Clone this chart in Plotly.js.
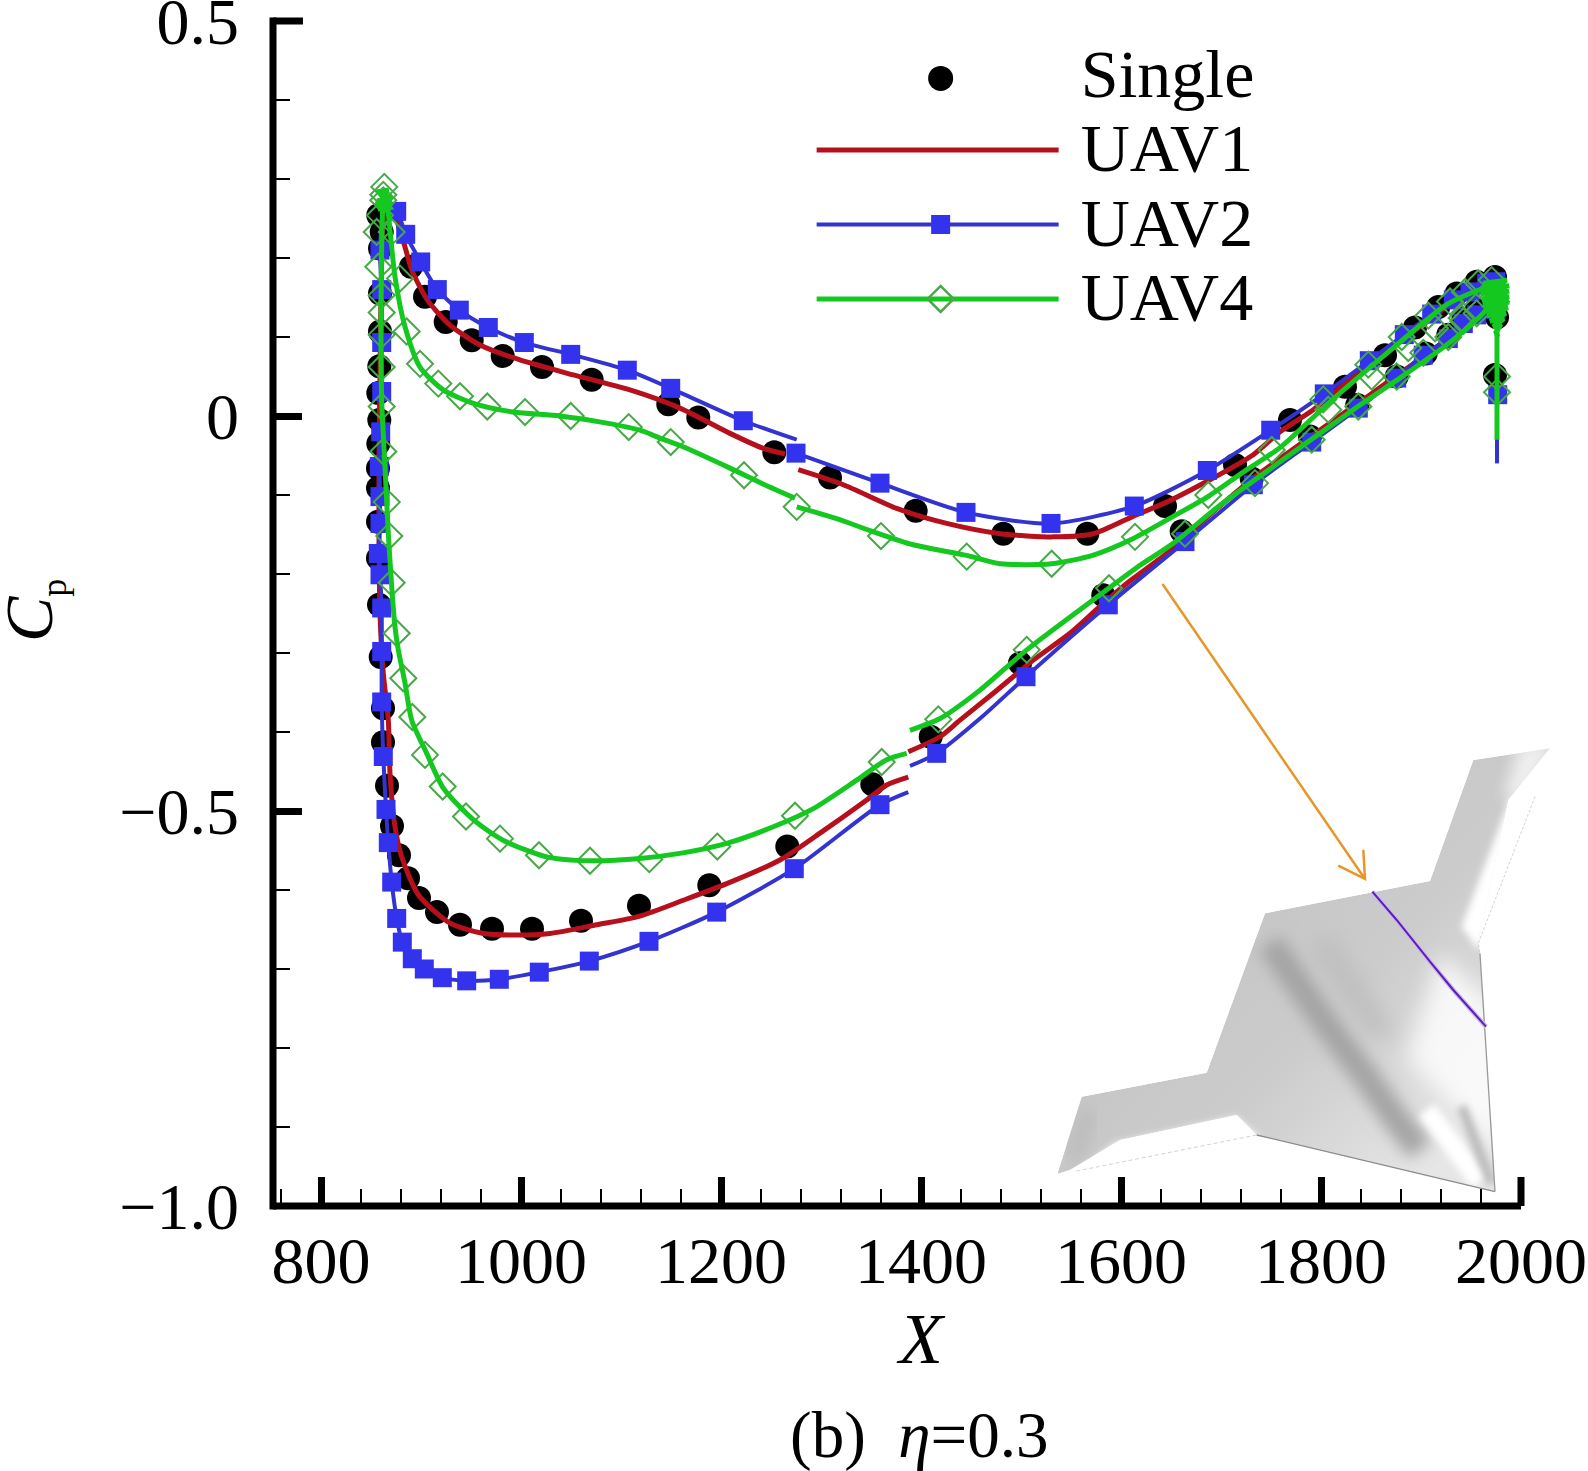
<!DOCTYPE html>
<html>
<head>
<meta charset="utf-8">
<script src="https://cdn.plot.ly/plotly-3.0.1.min.js"></script>
<style>
    html, body { margin: 0; padding: 0; background: #fff; }
</style>
</head>
<body>
<div id="plot" style="width:1588px;height:1471px;"></div>
<script>
// all values, [X, Cp]
const singlePoints = [
    [857.3,0.254],[860.7,0.233],[859,0.212],[859,0.155],[859,0.107],[858.3,0.063],[857.3,0.029],[858.3,-0.005],
    [857.3,-0.035],[857,-0.066],[857,-0.091],[857,-0.134],[857,-0.18],[858,-0.239],[859.7,-0.305],[862,-0.37],
    [862,-0.413],[866,-0.468],[871,-0.519],[878,-0.556],[887,-0.585],[898,-0.61],[916,-0.628],[939,-0.644],
    [971,-0.649],[1011,-0.649],[1060,-0.639],[1118,-0.62],[1188.3,-0.594],[1266.3,-0.545],[1351.3,-0.466],
    [1409.7,-0.406],[1499,-0.313],[1582.3,-0.227],[1660.7,-0.146],[1730.7,-0.079],[1789,-0.026],[1836.3,0.014],
    [1875.7,0.05],[1904.7,0.079],[1927.3,0.103],[1942.3,0.122],[1955.7,0.134],
    [890,0.189],[904,0.151],[924.7,0.119],[950.7,0.096],[981.7,0.076],[1021,0.062],[1070.7,0.046],[1147.3,0.015],
    [1177.3,-0.002],[1253.3,-0.046],[1309,-0.078],[1394.7,-0.12],[1482.3,-0.149],[1566.3,-0.149],[1644,-0.114],
    [1714,-0.062],[1769,-0.005],[1824,0.037],[1864,0.077],[1894,0.112],[1917.3,0.138],[1935.7,0.155],[1955.7,0.17],
    [1974,0.176],[1976,0.125],[1974,0.052]
];

const uav1Inboard = [
    [1387.3,-0.457],[1365.7,-0.467],[1345.7,-0.486],[1299,-0.528],[1259,-0.562],[1205.7,-0.592],[1162.3,-0.613],
    [1119,-0.633],[1075.7,-0.644],[1029,-0.655],[992.3,-0.657],[962.3,-0.655],[929,-0.642],[897.3,-0.606],
    [880.7,-0.558],[874,-0.52],[869,-0.452],[867.3,-0.385],[862.3,-0.326],[859,-0.25],[858,-0.15],[858,-0.05],
    [859,0.05],[860,0.15],[862,0.24],[866,0.272],[875,0.25],[884,0.214],[890.7,0.185],[906.3,0.147],[929,0.115],
    [959,0.09],[999,0.071],[1052.3,0.052],[1109,0.033],[1159,0.01],[1209,-0.022],[1242.3,-0.041],[1264,-0.048]
];
const uav1Outboard = [
    [1277.3,-0.068],[1322.3,-0.087],[1375.7,-0.117],[1425.7,-0.136],[1479,-0.149],[1532.3,-0.153],[1572.3,-0.149],
    [1612,-0.127],[1645.7,-0.109],[1685.7,-0.083],[1732.3,-0.049],[1759,-0.02],[1792.3,0.008],[1829,0.046],
    [1869,0.086],[1899,0.113],[1959,0.168],[1975,0.172]
];
const uav1Return = [
    [1975,0.15],[1955,0.125],[1899,0.072],[1829,0.009],[1759,-0.054],[1732,-0.079],[1692.3,-0.121],[1645.7,-0.174],
    [1605.7,-0.212],[1579,-0.241],[1549,-0.275],[1512.3,-0.309],[1472.3,-0.351],[1439,-0.385],[1419,-0.406],[1387.3,-0.425]
];

const uav2Inboard = [
    [1387.3,-0.476],[1359,-0.492],[1273.3,-0.573],[1195.7,-0.628],[1128,-0.665],[1068.3,-0.69],[1018.3,-0.704],
    [978.3,-0.713],[945.7,-0.715],[921.3,-0.711],[903.3,-0.7],[891.3,-0.687],[881.3,-0.666],[875.7,-0.636],
    [870.7,-0.59],[867.3,-0.54],[865,-0.498],[862.3,-0.431],[860.7,-0.362],[860.7,-0.298],[860.7,-0.243],
    [859,-0.201],[857.3,-0.174],[859,-0.136],[859,-0.102],[858.3,-0.064],[859.7,-0.02],[860.7,0.031],[860.7,0.093],
    [860.7,0.16],[859,0.21],[864,0.265],[875.7,0.259],[884.7,0.23],[899.7,0.195],[916.3,0.16],[938.3,0.134],
    [967.3,0.112],[1003.3,0.093],[1049.7,0.078],[1106.3,0.058],[1149.7,0.035],[1222.3,-0.006],[1275.7,-0.03]
];
const uav2Outboard = [
    [1275,-0.047],[1359,-0.085],[1445,-0.122],[1530,-0.136],[1613.3,-0.114],[1686.3,-0.069],[1749.7,-0.018],
    [1803.3,0.028],[1848.3,0.07],[1883.3,0.103],[1910.7,0.129],[1932.3,0.147],[1949,0.157],[1965.7,0.168],[1975,0.17]
];
const uav2Return = [
    [1975,0.15],[1955.7,0.128],[1942.3,0.117],[1927.3,0.098],[1902.3,0.077],[1875.7,0.048],[1837.3,0.01],[1790.7,-0.033],
    [1732.3,-0.087],[1664,-0.159],[1587.3,-0.239],[1505,-0.33],[1459,-0.383],[1415.7,-0.427],[1389,-0.443]
];
const uav2Spike = [[1976,0.17],[1976,-0.06]];
const uav2Bare = [1387.3,1275.7,1389,1459,864];   // line ends, no symbol drawn there
const uav2Trailing = [[1976.7,0.027],[1975,0.135]];

const uav4Inboard = [
    [1385.7,-0.427],[1365.7,-0.435],[1335.7,-0.461],[1292.3,-0.497],[1252.3,-0.52],[1205.7,-0.541],[1162,-0.553],
    [1119,-0.56],[1069,-0.563],[1025.7,-0.558],[982,-0.537],[952.3,-0.511],[922.3,-0.471],[905.7,-0.427],[890.7,-0.385],
    [884,-0.338],[877.3,-0.296],[874,-0.267],[870.7,-0.216],[867.3,-0.149],[864,-0.064],[860.7,0.02],[860,0.1],
    [860.5,0.2],[862,0.27],[864,0.285],[867,0.26],[874,0.176],[884,0.113],[899,0.062],[922.3,0.033],[952.3,0.016],
    [992.3,0.005],[1039,0],[1085.7,-0.009],[1119,-0.018],[1139,-0.028],[1162,-0.039],[1209,-0.066],[1242,-0.086],[1274,-0.104]
];
const uav4Outboard = [
    [1275.7,-0.115],[1315.7,-0.13],[1349,-0.145],[1392.3,-0.163],[1445.7,-0.1765],[1479,-0.187],[1530.7,-0.187],
    [1572.3,-0.176],[1612.3,-0.155],[1652.3,-0.127],[1687,-0.102],[1722.3,-0.071],[1759,-0.04],[1809,0.018],
    [1872,0.086],[1925.7,0.141],[1959,0.16],[1976,0.165]
];
const uav4Return = [
    [1976,0.15],[1959,0.126],[1925.7,0.09],[1885.7,0.054],[1832.3,0.008],[1759,-0.058],[1699,-0.113],[1652.3,-0.161],
    [1619,-0.189],[1585.7,-0.22],[1505.7,-0.296],[1459,-0.347],[1419,-0.383],[1389,-0.398]
];
const uav4Spike = [[1976,0.17],[1976,-0.03]];
const uav4TrailingBlob = [
    [1962,0.168],[1986,0.172],[1960,0.162],[1988,0.165],[1960,0.155],[1988,0.158],[1961,0.148],[1988,0.151],
    [1962,0.141],[1988,0.144],[1964,0.134],[1987,0.137],[1966,0.127],[1985,0.13],[1969,0.12],[1983,0.123],[1972,0.113],[1980,0.116],[1975,0.106],[1977,0.1]
];
const uav4LeadingBlob = [
    [856,0.272],[871,0.278],[855,0.268],[871,0.27],[857,0.262],[869,0.264],[858,0.284],[868,0.286]
];
const uav4Markers = [
    [863.3,0.29],[862.3,0.28],[862.3,0.273],[859,0.254],[870.7,0.233],[855.7,0.233],[857.3,0.189],[879,0.174],
    [860.7,0.153],[860.7,0.131],[885.7,0.107],[860.7,0.103],[860.7,0.062],[899,0.066],[917.3,0.041],[939,0.025],
    [966.3,0.012],[1004,0.005],[1049.7,0],[1107.7,-0.014],[1149.7,-0.033],[1223,-0.075],[1275.7,-0.115],[1360,-0.152],
    [1445.7,-0.178],[1530.7,-0.187],[1614,-0.153],[1687.3,-0.1],[1750.7,-0.043],
    [860.7,0.012],[862.3,-0.045],[865.7,-0.109],[868.3,-0.152],[870.7,-0.211],[875.7,-0.275],[882.3,-0.332],
    [891.3,-0.381],[904,-0.429],[921.7,-0.469],[945,-0.507],[979,-0.535],[1018,-0.556],[1069,-0.563],[1128.3,-0.561],
    [1196.3,-0.545],[1274,-0.506],[1360.7,-0.438],[1417.3,-0.384],[1505.7,-0.296],[1588,-0.218],[1664,-0.149],[1734,-0.085],
    [1802.3,0.021],[1847.3,0.065],[1880.7,0.1],[1907.3,0.127],[1929,0.145],[1944,0.157],[1957.3,0.168],[1970.7,0.172],
    [1807.3,0.008],[1850.7,0.05],[1887.3,0.086],[1914,0.111],[1940.7,0.124],
    [1790.7,-0.03],[1837.3,0.012],[1875.7,0.05],[1902.3,0.08],[1927.3,0.1],[1942.3,0.12],[1955.7,0.13],
    [1976,0.05],[1976,0.03],[1975,0.145],[1972,0.15]
];

const xTickVals = [800, 1000, 1200, 1400, 1600, 1800, 2000];
const yTickVals = [0.5, 0, -0.5, -1];
const yTickText = ["0.5", "0", "\u22120.5", "\u22121.0"];

const serif = "Liberation Serif, Times New Roman, serif";
const red = "#b5101c";
const blue = "#3333d0";
const blueMarker = "#3333ee";
const green = "#14c820";
const diamondEdge = "#48a848";

// segments that are not joined get a null in between
function joined(...segments) {
    const x = [], y = [];
    segments.forEach((seg, i) => {
        if (i > 0) { x.push(null); y.push(null); }
        seg.forEach(p => { x.push(p[0]); y.push(p[1]); });
    });
    return {x: x, y: y};
}

// row height follows legend.font.size, the text itself is bigger than that
const legendName = s => '<span style="font-size:68px">\u00a0' + s + '</span>';
const uav2Pts = uav2Inboard.concat(uav2Outboard, uav2Return, uav2Trailing).filter(p => !uav2Bare.includes(p[0]));
const diamond = {symbol: "diamond-open", size: 20, color: diamondEdge, line: {width: 2, color: diamondEdge}};
const square = {symbol: "square", size: 19, color: blueMarker};

const traces = [
    {type: "scatter", mode: "markers", name: legendName("Single"),
        x: singlePoints.map(p => p[0]), y: singlePoints.map(p => p[1]),
        marker: {symbol: "circle", size: 24, color: "#000"}},
    Object.assign({type: "scatter", mode: "lines", name: legendName("UAV1"),
        line: {color: red, width: 5, shape: "spline", smoothing: 0.7}},
        joined(uav1Inboard, uav1Outboard, uav1Return)),

    // key only, the curve and the symbols are separate traces
    {type: "scatter", mode: "lines+markers", name: legendName("UAV2"), x: [null], y: [null],
        line: {color: blue, width: 4}, marker: square},
    Object.assign({type: "scatter", mode: "lines", showlegend: false,
        line: {color: blue, width: 4, shape: "spline", smoothing: 0.7}},
        joined(uav2Inboard, uav2Outboard, uav2Return, uav2Spike)),
    {type: "scatter", mode: "markers", showlegend: false,
        x: uav2Pts.map(p => p[0]), y: uav2Pts.map(p => p[1]), marker: square},

    {type: "scatter", mode: "lines+markers", name: legendName("UAV4"), x: [null], y: [null],
        line: {color: green, width: 5}, marker: diamond},
    {type: "scatter", mode: "markers", showlegend: false,
        x: uav4Markers.map(p => p[0]), y: uav4Markers.map(p => p[1]), marker: diamond},
    Object.assign({type: "scatter", mode: "lines", showlegend: false,
        line: {color: green, width: 5, shape: "spline", smoothing: 0.7}},
        joined(uav4Inboard, uav4Outboard, uav4Return, uav4Spike)),
    // solid green patches at the two ends of the section
    Object.assign({type: "scatter", mode: "lines", showlegend: false, line: {color: green, width: 5}},
        joined(uav4TrailingBlob, uav4LeadingBlob))
];

// the small aircraft drawing, in its own 1560x1440 box
const outline = "82,1362 155,1130 530,1058 705,580 1200,483 1330,120 1560,85 1435,240 1345,670 1350,700 1395,1415 680,1245 620,1185 270,1260 120,1350";
const insetSvg = `<svg xmlns="http://www.w3.org/2000/svg" width="1560" height="1440" viewBox="0 0 1560 1440">
<defs>
<clipPath id="c"><polygon points="${outline}"/></clipPath>
<filter id="b" x="-40%" y="-40%" width="180%" height="180%"><feGaussianBlur stdDeviation="34"/></filter>
<filter id="m" x="-40%" y="-40%" width="180%" height="180%"><feGaussianBlur stdDeviation="22"/></filter>
<filter id="s" x="-40%" y="-40%" width="180%" height="180%"><feGaussianBlur stdDeviation="11"/></filter>
<linearGradient id="g" x1="0.2" y1="0.3" x2="0.85" y2="0.85"><stop offset="0" stop-color="#c2c2c2"/><stop offset="0.55" stop-color="#cccccc"/><stop offset="1" stop-color="#e6e6e6"/></linearGradient>
</defs>
<g clip-path="url(#c)">
<polygon points="${outline}" fill="url(#g)"/>
<polygon points="1230,700 1420,880 1420,1300 1130,1020" fill="#fff" opacity="0.8" filter="url(#b)"/>
<polygon points="1295,620 1440,235 1540,215 1345,690" fill="#fff" filter="url(#s)"/>
<polygon points="1470,70 1580,70 1480,240 1420,230" fill="#fff" opacity="0.7" filter="url(#m)"/>
<polygon points="255,1270 620,1190 700,1265 110,1380" fill="#fff" filter="url(#s)"/>
<polyline points="720,670 880,900 1000,1060 1100,1200 1170,1290" fill="none" stroke="#a4a4a4" stroke-width="80" filter="url(#m)"/>
<polyline points="870,660 1060,950" fill="none" stroke="#bdbdbd" stroke-width="70" filter="url(#b)"/>
<polyline points="1190,1170 1350,1385" fill="none" stroke="#fff" stroke-width="60" filter="url(#s)"/>
<polyline points="1295,1160 1385,1390" fill="none" stroke="#bcbcbc" stroke-width="30" filter="url(#s)"/>
<polyline points="130,1320 180,1170" fill="none" stroke="#bcbcbc" stroke-width="50" filter="url(#m)"/>
</g>
<polyline points="680,1245 1395,1415" fill="none" stroke="#8a8a8a" stroke-width="4"/>
<polyline points="1350,700 1395,1415" fill="none" stroke="#9a9a9a" stroke-width="4"/>
<polyline points="1515,230 1345,670 1350,700" fill="none" stroke="#bbb" stroke-width="2" stroke-dasharray="8 6"/>
<polyline points="680,1245 130,1355" fill="none" stroke="#bbb" stroke-width="2" stroke-dasharray="12 8"/>
<polyline points="1027,515 1100,600 1200,725 1270,810 1368,920" fill="none" stroke="#cdb8f2" stroke-width="14"/>
<polyline points="1027,515 1100,600 1200,725 1270,810 1368,920" fill="none" stroke="#5a20b0" stroke-width="6"/>
</svg>`;

const layout = {
    width: 1588,
    height: 1471,
    margin: {l: 273, r: 67, t: 21, b: 265, pad: 0},
    paper_bgcolor: "#fff",
    plot_bgcolor: "rgba(0,0,0,0)",
    font: {family: serif, color: "#000", size: 66},
    xaxis: {
        range: [752, 2000],
        tickmode: "array",
        tickvals: xTickVals,
        ticks: "inside",
        ticklen: 29,
        tickwidth: 7,
        tickcolor: "#000",
        ticklabelstandoff: 10,
        ticklabeloverflow: "allow",
        tickfont: {family: serif, size: 66},
        minor: {tick0: 760, dtick: 40, ticks: "inside", ticklen: 17, tickwidth: 2, tickcolor: "#000", showgrid: false},
        showgrid: false,
        zeroline: false,
        showline: false
    },
    yaxis: {
        range: [-1, 0.5],
        tickmode: "array",
        tickvals: yTickVals,
        ticktext: yTickText,
        ticks: "inside",
        ticklen: 29,
        tickwidth: 7,
        tickcolor: "#000",
        ticklabelstandoff: 33,
        ticklabeloverflow: "allow",
        tickfont: {family: serif, size: 66},
        minor: {tick0: 0, dtick: 0.1, ticks: "inside", ticklen: 17, tickwidth: 2, tickcolor: "#000", showgrid: false},
        showgrid: false,
        zeroline: false,
        showline: false
    },
    legend: {
        x: 0.4316, y: 0.9897, xanchor: "left", yanchor: "top",
        bgcolor: "rgba(0,0,0,0)",
        borderwidth: 0,
        itemwidth: 242,
        itemclick: false,
        font: {family: serif, size: 55, color: "#000"}
    },
    // axis lines as shapes so they sit centred on the end ticks,
    // plotly also drops inside ticks at the range ends so those two are here too
    shapes: [
        {type: "line", xref: "paper", yref: "paper", x0: 0, x1: 0, y0: -0.003, y1: 1.003, line: {color: "#000", width: 7}},
        {type: "line", xref: "paper", yref: "paper", x0: 0, x1: 1, y0: 0, y1: 0, line: {color: "#000", width: 7}},
        {type: "line", xref: "paper", yref: "paper", x0: 0, x1: 0.024, y0: 1, y1: 1, line: {color: "#000", width: 7}},
        {type: "line", xref: "paper", yref: "paper", x0: 1, x1: 1, y0: 0, y1: 0.0245, line: {color: "#000", width: 7}},
        {type: "path", xref: "x", yref: "y", layer: "above",
            path: "M1641.5,-0.2127 L1844,-0.586 M1817.3,-0.569 L1844,-0.586 L1842.3,-0.549",
            line: {color: "#e8962a", width: 2.5}}
    ],
    images: [{
        source: "data:image/svg+xml;charset=utf-8," + encodeURIComponent(insetSvg),
        xref: "paper", yref: "paper",
        x: (1030 - 273) / 1248, y: (1206 - 720) / 1185,
        sizex: 520 / 1248, sizey: 480 / 1185,
        xanchor: "left", yanchor: "top",
        sizing: "stretch",
        layer: "below"
    }],
    annotations: [
        {
            text: "(b)\u00a0 <i>\u03b7</i>=0.3",
            xref: "paper", yref: "paper",
            x: (919 - 273) / 1248, y: (1206 - 1435) / 1185,
            xanchor: "center", yanchor: "middle",
            showarrow: false,
            font: {family: serif, size: 65, color: "#000"}
        },
        {
            text: "<i>X</i>",
            xref: "paper", yref: "paper",
            x: (921 - 273) / 1248, y: (1206 - 1339) / 1185,
            xanchor: "center", yanchor: "middle",
            showarrow: false,
            font: {family: serif, size: 72, color: "#000"}
        },
        {
            text: "<i>C</i><sub><span style=\"font-size:36px\">p</span></sub>",
            textangle: -90,
            xref: "paper", yref: "paper",
            x: (32 - 273) / 1248, y: (1206 - 611) / 1185,
            xanchor: "center", yanchor: "middle",
            showarrow: false,
            font: {family: serif, size: 68, color: "#000"}
        }
    ]
};

Plotly.newPlot("plot", traces, layout, {displayModeBar: false, responsive: false}).then(() => {
    // legend symbols are capped in size by plotly, grow them to what the picture has
    const grow = [25 / 16, 19 / 16, 20 / 16];
    document.querySelectorAll("#plot .legend .scatterpts").forEach((el, i) => {
        const nudge = i === 0 ? "translate(3,3) " : "translate(3,0) ";
        el.setAttribute("transform", nudge + (el.getAttribute("transform") || "") + " scale(" + grow[i] + ")");
    });
});
</script>
</body>
</html>
